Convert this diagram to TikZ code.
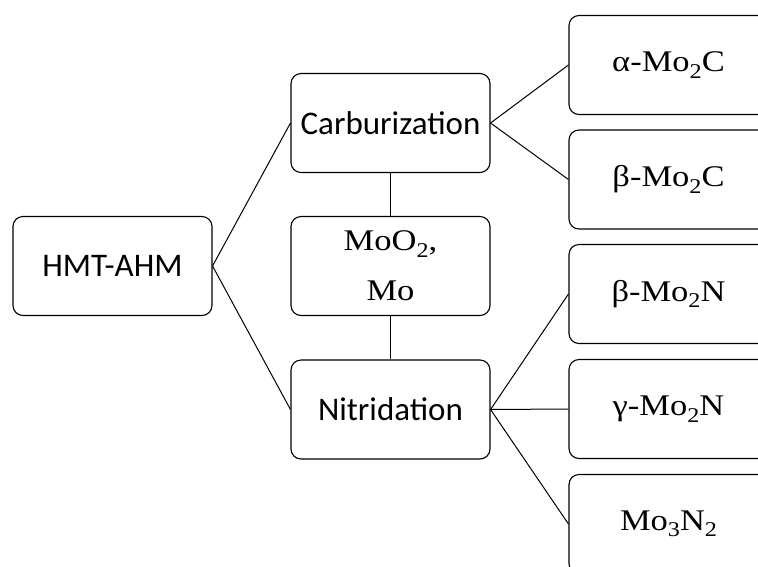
\documentclass[tikz,border=0pt]{standalone}
\usepackage{fontspec}
\setmainfont{Liberation Serif}
\newfontfamily\calib{Carlito}
\newfontfamily\ser[FakeStretch=1.15]{Liberation Serif}
\newcommand\sbs[1]{\raisebox{-6.5pt}{\fontsize{21}{21}\selectfont #1}}
\tikzset{
  box/.style={draw=black, line width=1.1pt, rounded corners=10pt, minimum width=199pt, minimum height=99pt, inner sep=0pt, align=center},
  sansbox/.style={box, font=\calib\fontsize{33}{40}\selectfont},
  serifbox/.style={box, font=\ser\fontsize{30}{50}\selectfont},
  conn/.style={draw=black, line width=1pt}
}
\begin{document}
\begin{tikzpicture}[x=1pt,y=-1pt]
\useasboundingbox (0,0) rectangle (758,566);
\clip (0,0) rectangle (758,566);
\fill[white] (0,0) rectangle (758,566);
\node[sansbox] (hmt) at (112.5,266) {HMT-AHM};
\node[sansbox] (carb) at (390.5,123) {Carburization};
\node[serifbox] (moo) at (390.5,266) {MoO\sbs{2},\\Mo};
\node[sansbox] (nitr) at (390.5,409.5) {Nitridation};
\node[serifbox] (a) at (668.5,65) {α-Mo\sbs{2}C};
\node[serifbox] (b) at (668.5,179.5) {β-Mo\sbs{2}C};
\node[serifbox] (c) at (668.5,294) {β-Mo\sbs{2}N};
\node[serifbox] (d) at (668.5,409) {γ-Mo\sbs{2}N};
\node[serifbox] (e) at (668.5,524) {Mo\sbs{3}N\sbs{2}};
\draw[conn] (carb.west) -- (hmt.east) -- (nitr.west);
\draw[conn] (a.west) -- (carb.east) -- (b.west);
\draw[conn] (nitr.east) -- (c.west);
\draw[conn] (nitr.east) -- (d.west);
\draw[conn] (nitr.east) -- (e.west);
\draw[conn] (carb.south) -- (moo.north);
\draw[conn] (moo.south) -- (nitr.north);
\end{tikzpicture}
\end{document}
